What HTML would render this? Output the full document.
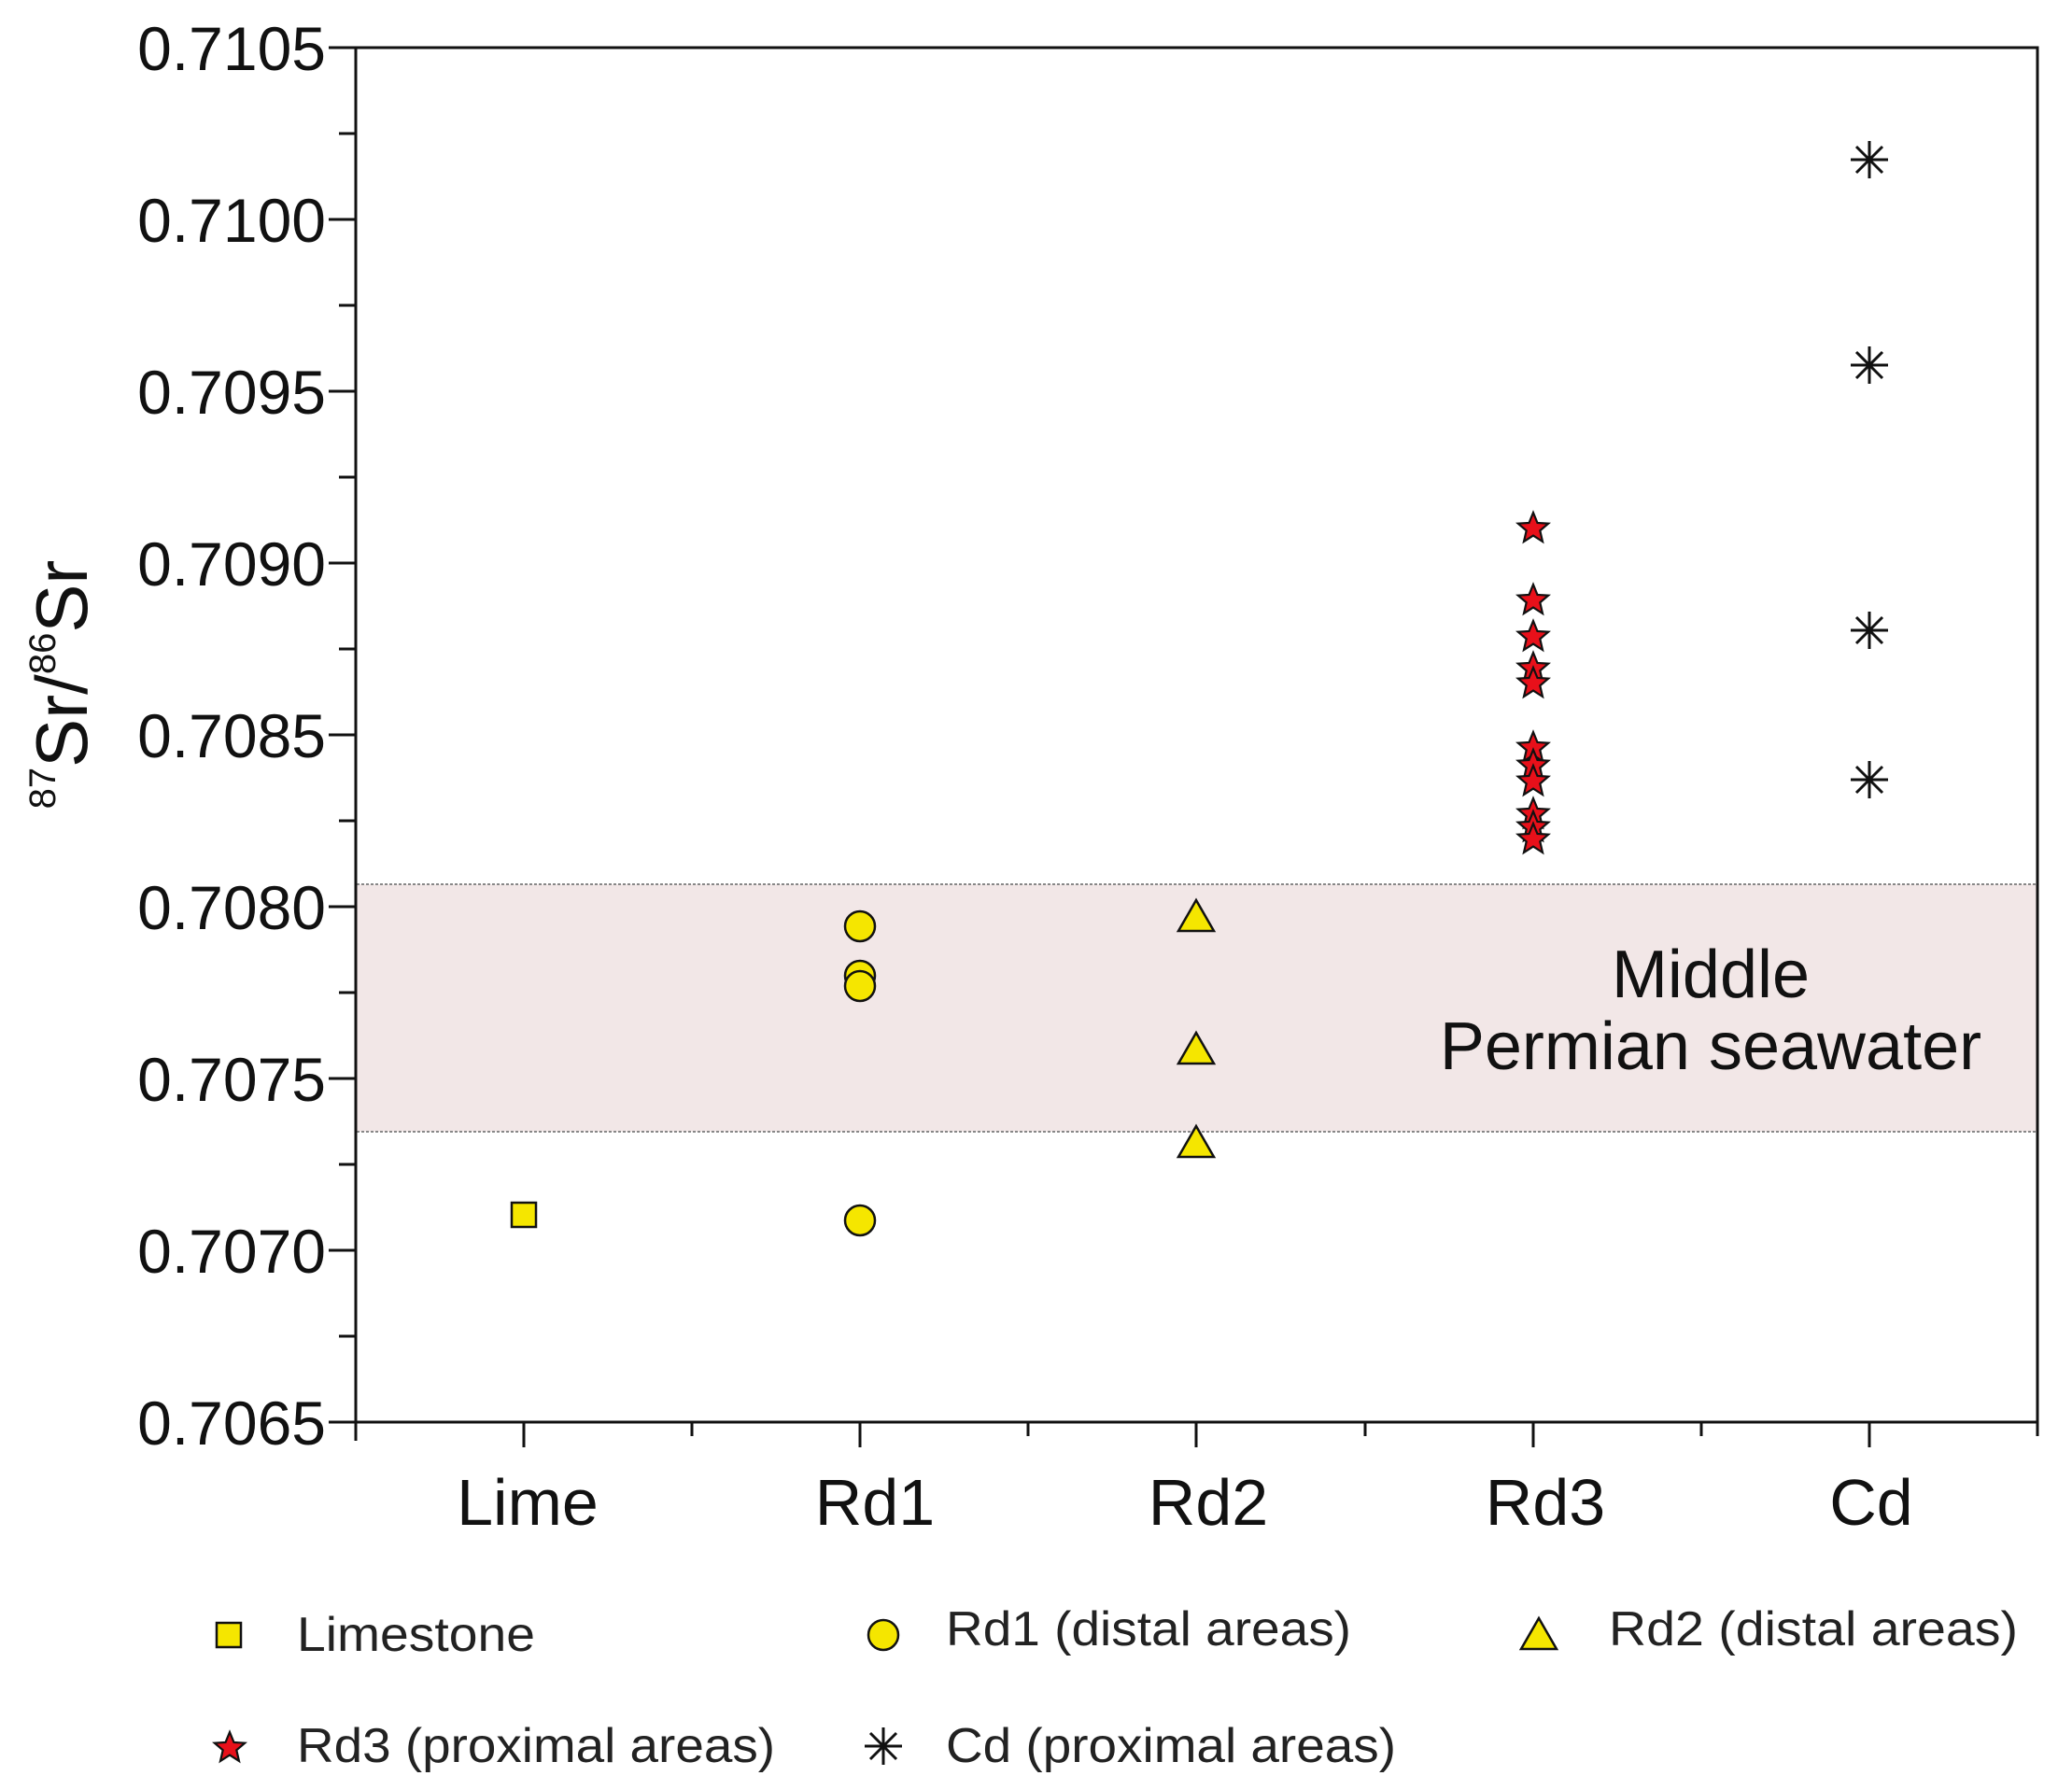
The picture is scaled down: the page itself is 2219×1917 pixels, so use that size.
<!DOCTYPE html>
<html><head><meta charset="utf-8"><style>
html,body{margin:0;padding:0;background:#fff;}
svg{display:block;font-family:"Liberation Sans",Arial,sans-serif;}
</style></head><body>
<svg width="2219" height="1917" viewBox="0 0 2219 1917" xmlns="http://www.w3.org/2000/svg">
<defs>
<polygon id="star" points="0,-17 4.5,-6 16.2,-5.3 7.3,2.3 10,14 0,7.6 -10,14 -7.3,2.3 -16.2,-5.3 -4.5,-6" fill="#e8101a" stroke="#111" stroke-width="2.2"/>
<g id="ast" stroke="#111" stroke-width="3"><line x1="-20" y1="0" x2="20" y2="0"/><line x1="0" y1="-20" x2="0" y2="20"/><line x1="-14" y1="-14" x2="14" y2="14"/><line x1="-14" y1="14" x2="14" y2="-14"/></g>
<polygon id="tri" points="0,-21 19,12 -19,12" fill="#f5e600" stroke="#111" stroke-width="2.5"/>
<circle id="cir" r="16" fill="#f5e600" stroke="#111" stroke-width="2.5"/>
</defs>
<rect x="382" y="947" width="1800" height="265" fill="#f2e7e7"/>
<line x1="382" y1="947" x2="2182" y2="947" stroke="#888" stroke-width="2" stroke-dasharray="3,2"/>
<line x1="382" y1="1212" x2="2182" y2="1212" stroke="#888" stroke-width="2" stroke-dasharray="3,2"/>
<rect x="381" y="51" width="1801" height="1472" fill="none" stroke="#111" stroke-width="3"/>
<g stroke="#111" stroke-width="3">
<line x1="352" y1="51" x2="381" y2="51"/><line x1="363" y1="143" x2="381" y2="143"/>
<line x1="352" y1="235" x2="381" y2="235"/><line x1="363" y1="327" x2="381" y2="327"/>
<line x1="352" y1="419" x2="381" y2="419"/><line x1="363" y1="511" x2="381" y2="511"/>
<line x1="352" y1="603" x2="381" y2="603"/><line x1="363" y1="695" x2="381" y2="695"/>
<line x1="352" y1="787" x2="381" y2="787"/><line x1="363" y1="879" x2="381" y2="879"/>
<line x1="352" y1="971" x2="381" y2="971"/><line x1="363" y1="1063" x2="381" y2="1063"/>
<line x1="352" y1="1155" x2="381" y2="1155"/><line x1="363" y1="1247" x2="381" y2="1247"/>
<line x1="352" y1="1339" x2="381" y2="1339"/><line x1="363" y1="1431" x2="381" y2="1431"/>
<line x1="352" y1="1523" x2="381" y2="1523"/>
<line x1="381" y1="1523" x2="381" y2="1543"/>
<line x1="561" y1="1523" x2="561" y2="1550"/><line x1="741" y1="1523" x2="741" y2="1538"/>
<line x1="921" y1="1523" x2="921" y2="1550"/><line x1="1101" y1="1523" x2="1101" y2="1538"/>
<line x1="1281" y1="1523" x2="1281" y2="1550"/><line x1="1462" y1="1523" x2="1462" y2="1538"/>
<line x1="1642" y1="1523" x2="1642" y2="1550"/><line x1="1822" y1="1523" x2="1822" y2="1538"/>
<line x1="2002" y1="1523" x2="2002" y2="1550"/><line x1="2182" y1="1523" x2="2182" y2="1538"/>
</g>
<g font-size="66" fill="#111" text-anchor="end">
<text x="349" y="75">0.7105</text><text x="349" y="259">0.7100</text>
<text x="349" y="443">0.7095</text><text x="349" y="627">0.7090</text>
<text x="349" y="811">0.7085</text><text x="349" y="995">0.7080</text>
<text x="349" y="1179">0.7075</text><text x="349" y="1363">0.7070</text>
<text x="349" y="1547">0.7065</text>
</g>
<g font-size="70" fill="#111" text-anchor="middle">
<text x="565" y="1633">Lime</text><text x="937" y="1633">Rd1</text>
<text x="1294" y="1633">Rd2</text><text x="1655" y="1633">Rd3</text>
<text x="2004" y="1633">Cd</text>
</g>
<text transform="translate(93,733) rotate(-90)" text-anchor="middle" font-size="78" fill="#111"><tspan font-size="40" dy="-34">87</tspan><tspan dy="34">Sr/</tspan><tspan font-size="40" dy="-34">86</tspan><tspan dy="34">Sr</tspan></text>
<g font-size="72" fill="#111" text-anchor="middle">
<text x="1832" y="1068">Middle</text>
<text x="1832" y="1145">Permian seawater</text>
</g>
<rect x="548" y="1288" width="26" height="26" fill="#f5e600" stroke="#111" stroke-width="2.5"/>
<use href="#cir" x="921" y="1307"/><use href="#cir" x="921" y="1045"/><use href="#cir" x="921" y="1056"/><use href="#cir" x="921" y="992"/>
<use href="#tri" x="1281" y="985"/><use href="#tri" x="1281" y="1127"/><use href="#tri" x="1281" y="1227"/>
<use href="#star" x="1642" y="566"/><use href="#star" x="1642" y="643"/><use href="#star" x="1642" y="682"/>
<use href="#star" x="1642" y="716"/><use href="#star" x="1642" y="732"/><use href="#star" x="1642" y="801"/>
<use href="#star" x="1642" y="820"/><use href="#star" x="1642" y="837"/><use href="#star" x="1642" y="872"/>
<use href="#star" x="1642" y="886"/><use href="#star" x="1642" y="899"/>
<use href="#ast" x="2002" y="171"/><use href="#ast" x="2002" y="391"/><use href="#ast" x="2002" y="675"/><use href="#ast" x="2002" y="835"/>
<rect x="232" y="1738" width="26" height="26" fill="#f5e600" stroke="#111" stroke-width="2.5"/>
<use href="#cir" x="946" y="1751"/>
<use href="#tri" x="1648" y="1754"/>
<use href="#star" x="246" y="1872"/>
<use href="#ast" x="946" y="1870"/>
<g font-size="52" fill="#222">
<text x="318" y="1768" textLength="255" lengthAdjust="spacingAndGlyphs">Limestone</text>
<text x="1013" y="1762" textLength="434" lengthAdjust="spacingAndGlyphs">Rd1 (distal areas)</text>
<text x="1723" y="1762" textLength="438" lengthAdjust="spacingAndGlyphs">Rd2 (distal areas)</text>
<text x="318" y="1887" textLength="512" lengthAdjust="spacingAndGlyphs">Rd3 (proximal areas)</text>
<text x="1013" y="1887" textLength="482" lengthAdjust="spacingAndGlyphs">Cd (proximal areas)</text>
</g>
</svg>
</body></html>
